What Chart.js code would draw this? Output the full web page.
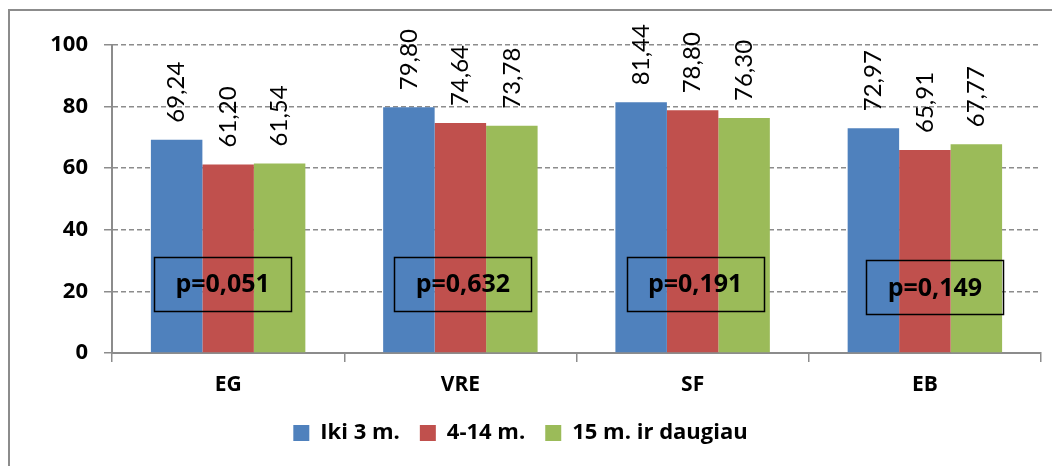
<!DOCTYPE html>
<html>
<head>
<meta charset="utf-8">
<script src="https://cdn.jsdelivr.net/npm/chart.js@4/dist/chart.umd.min.js"></script>
<style>
  html, body { margin: 0; padding: 0; background: #fff; overflow: hidden; }
  #frame {
    position: absolute; left: 8px; top: 9px;
    width: 1100px; height: 520px;
    border: 2px solid #8c8c8c; box-sizing: border-box;
  }
  #c { position: absolute; left: 0; top: 0; }
</style>
</head>
<body>
<div id="frame"></div>
<canvas id="c" width="1052" height="466"></canvas>
<script>
// Categories and series
const categories = ['EG', 'VRE', 'SF', 'EB'];
const seriesNames = ['Iki 3 m.', '4-14 m.', '15 m. ir daugiau'];
const under3 = [69.24, 79.80, 81.44, 72.97];
const from4to14 = [61.20, 74.64, 78.80, 65.91];
const from15 = [61.54, 73.78, 76.30, 67.77];
const pValues = ['0,051', '0,632', '0,191', '0,149'];
const yTicks = [0, 20, 40, 60, 80, 100];

// Layout of the p-value boxes (offset from category centre, in px / value units)
const pBoxLayout = {
  dx: [-5.5, 2.5, 2.5, 10],
  yCenter: [22.4, 22.4, 22.4, 21.3],
  width: 137,
  height: 54
};

const colors = ['#4F81BD', '#C0504D', '#9BBB59'];
const FONT = 'Lato, "Open Sans", "Liberation Sans", sans-serif';
const BOLD_FONT = '"Open Sans", Lato, "Liberation Sans", sans-serif';

const fmt = v => v.toFixed(2).replace('.', ',');

// Rotated value labels above each bar
const valueLabels = {
  id: 'valueLabels',
  afterDatasetsDraw(chart) {
    const ctx = chart.ctx;
    ctx.save();
    ctx.fillStyle = '#000';
    ctx.font = '24px ' + FONT;
    ctx.textAlign = 'left';
    ctx.textBaseline = 'middle';
    chart.data.datasets.forEach((ds, di) => {
      const meta = chart.getDatasetMeta(di);
      meta.data.forEach((bar, i) => {
        ctx.save();
        ctx.translate(bar.x, bar.y - 17);
        ctx.rotate(-Math.PI / 2);
        ctx.fillText(fmt(ds.data[i]), 0, 0);
        ctx.restore();
      });
    });
    ctx.restore();
  }
};

// Framed p-value annotations over each group
const pBoxes = {
  id: 'pBoxes',
  afterDatasetsDraw(chart) {
    const ctx = chart.ctx;
    const xs = chart.scales.x, ys = chart.scales.y;
    ctx.save();
    ctx.strokeStyle = '#000';
    ctx.lineWidth = 1.5;
    ctx.fillStyle = '#000';
    ctx.font = 'bold 25px ' + BOLD_FONT;
    ctx.textAlign = 'center';
    ctx.textBaseline = 'middle';
    pValues.forEach((p, i) => {
      const cx = xs.getPixelForValue(i) + pBoxLayout.dx[i];
      const cy = ys.getPixelForValue(pBoxLayout.yCenter[i]);
      const w = pBoxLayout.width, h = pBoxLayout.height;
      ctx.strokeRect(Math.round(cx - w / 2) + 0.5, Math.round(cy - h / 2) + 0.5, w, h);
      ctx.fillText('p=' + p, cx, cy + 1);
    });
    ctx.restore();
  }
};

new Chart(document.getElementById('c'), {
  type: 'bar',
  data: {
    labels: categories,
    datasets: [
      { label: seriesNames[0], data: under3, backgroundColor: colors[0] },
      { label: seriesNames[1], data: from4to14, backgroundColor: colors[1] },
      { label: seriesNames[2], data: from15, backgroundColor: colors[2] }
    ]
  },
  options: {
    responsive: false,
    animation: false,
    devicePixelRatio: 1,
    categoryPercentage: 0.665,
    barPercentage: 1.0,
    layout: { padding: { left: 0, right: 11, top: 45, bottom: 12 } },
    plugins: {
      legend: {
        position: 'bottom',
        labels: {
          boxWidth: 16,
          boxHeight: 16,
          padding: 20,
          color: '#000',
          font: { family: BOLD_FONT, size: 22, weight: 'bold' }
        }
      },
      tooltip: { enabled: false }
    },
    scales: {
      x: {
        afterFit(scale) { scale.height = 49; },
        grid: {
          offset: true,
          drawOnChartArea: false,
          drawTicks: true,
          tickLength: 9,
          color: '#8c8c8c',
          lineWidth: 1.5
        },
        border: { color: '#8c8c8c', width: 2 },
        ticks: {
          color: '#000',
          padding: 10,
          font: { family: BOLD_FONT, size: 21, weight: 'bold' }
        }
      },
      y: {
        min: 0,
        max: 100,
        afterFit(scale) { scale.width = 112; },
        afterBuildTicks(scale) { scale.ticks = yTicks.map(v => ({ value: v })); },
        grid: {
          color: '#8c8c8c',
          lineWidth: 1.5,
          tickLength: 8,
          tickBorderDash: [],
          tickColor: '#8c8c8c'
        },
        border: { color: '#8c8c8c', width: 2, dash: [5, 3] },
        ticks: {
          color: '#000',
          padding: 16,
          font: { family: BOLD_FONT, size: 22, weight: 'bold' }
        }
      }
    }
  },
  plugins: [valueLabels, pBoxes]
});
</script>
</body>
</html>
